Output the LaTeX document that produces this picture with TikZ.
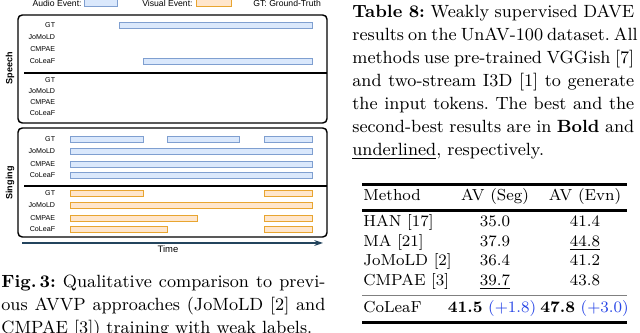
\documentclass[tikz,border=0pt]{standalone}
\usepackage{fontspec}
\newfontfamily\dsans{Liberation Sans}
\usetikzlibrary{arrows.meta}
\definecolor{abfill}{HTML}{DAE8FC}
\definecolor{abdraw}{HTML}{7F9FD0}
\definecolor{vbfill}{HTML}{FFE6CC}
\definecolor{vbdraw}{HTML}{E8A530}
\definecolor{deltablue}{RGB}{40,70,230}
\definecolor{timecol}{HTML}{23445D}
\frenchspacing
\begin{document}
\begin{tikzpicture}[x=0.52pt,y=-0.52pt,
  abar/.style={fill=abfill,draw=abdraw,line width=0.5pt},
  vbar/.style={fill=vbfill,draw=vbdraw,line width=0.5pt},
  rowlab/.style={font=\dsans\fontsize{3.7}{4}\selectfont,anchor=east,inner sep=0pt},
  panel/.style={draw=black,line width=0.75pt,rounded corners=2.2pt},
  sepline/.style={draw=black,line width=0.75pt},
  legtext/.style={font=\dsans\fontsize{4.5}{5}\selectfont,inner sep=0pt},
  sidelab/.style={font=\dsans\bfseries\fontsize{4.7}{5}\selectfont,inner sep=0pt,rotate=90},
  captxt/.style={font=\fontsize{9.2}{11}\selectfont,anchor=base west,inner sep=0pt},
  tabtxt/.style={font=\fontsize{8.3}{10}\selectfont,anchor=base,inner sep=0pt},
  heavyrule/.style={line width=1.3pt},
  thinrule/.style={line width=0.45pt,draw=gray}]
\useasboundingbox (0,0) rectangle (640,333);
\clip (0,0) rectangle (640,333);

% ---------- legend ----------
\node[legtext,anchor=east] (legA) at (82,3.5) {Audio Event:};
\path[abar] (84,-2) rectangle (117,6.5);
\node[legtext,anchor=east] (legV) at (193,3.5) {Visual Event:};
\path[vbar] (196,-2) rectangle (231,6.5);
\node[legtext,anchor=west] (legG) at (253,3.5) {GT: Ground-Truth};

% ---------- speech panel ----------
\draw[panel] (18,15) rectangle (327,123);
\draw[sepline] (24,73) -- (327,73);
\node[sidelab] (speech) at (10,68) {Speech};
\node[rowlab] (s1) at (55.5,25) {GT};
\node[rowlab] (s2) at (55.5,37) {JoMoLD};
\node[rowlab] (s3) at (55.5,49) {CMPAE};
\node[rowlab] (s4) at (55.5,61) {CoLeaF};
\node[rowlab] (s5) at (55.5,80) {GT};
\node[rowlab] (s6) at (55.5,91) {JoMoLD};
\node[rowlab] (s7) at (55.5,102) {CMPAE};
\node[rowlab] (s8) at (55.5,113) {CoLeaF};
\path[abar] (119,22) rectangle (312,28);
\path[abar] (143,58) rectangle (312,64);

% ---------- singing panel ----------
\draw[panel] (18,128) rectangle (327,237);
\draw[sepline] (24,186) -- (327,186);
\node[sidelab] (singing) at (10,183) {Singing};
\node[rowlab] (g1) at (55.5,139) {GT};
\node[rowlab] (g2) at (55.5,151) {JoMoLD};
\node[rowlab] (g3) at (55.5,164) {CMPAE};
\node[rowlab] (g4) at (55.5,175) {CoLeaF};
\node[rowlab] (g5) at (55.5,193) {GT};
\node[rowlab] (g6) at (55.5,205) {JoMoLD};
\node[rowlab] (g7) at (55.5,218) {CMPAE};
\node[rowlab] (g8) at (55.5,229) {CoLeaF};
% audio bars
\path[abar] (70,136) rectangle (143,142);
\path[abar] (167,136) rectangle (239,142);
\path[abar] (264,136) rectangle (312,142);
\path[abar] (70,148) rectangle (312,154);
\path[abar] (70,161) rectangle (312,167);
\path[abar] (70,172) rectangle (312,178);
% visual bars
\path[vbar] (70,190) rectangle (143,196);
\path[vbar] (264,190) rectangle (312,196);
\path[vbar] (70,202) rectangle (312,208);
\path[vbar] (70,215) rectangle (197,221);
\path[vbar] (264,215) rectangle (312,221);
\path[vbar] (70,226) rectangle (167,232);
\path[vbar] (264,226) rectangle (312,232);

% ---------- time axis ----------
\coordinate (t0) at (22,243);
\coordinate (t1) at (323,243);
\draw[timecol,line width=0.6pt,-{Stealth[length=4.5pt,width=3pt]}] (t0) -- (t1);
\node[legtext,font=\dsans\fontsize{4.9}{5}\selectfont] (time) at (168,249) {Time};

% ---------- left caption ----------
\node[captxt] (cap1) at (1,288) {\hbox to 168.5pt{\textbf{Fig.\,3:} Qualitative comparison to previ-}};
\node[captxt] (cap2) at (1,311) {\hbox to 168.5pt{ous AVVP approaches (JoMoLD [2] and}};
\node[captxt] (cap3) at (1,334) {CMPAE [3]) training with weak labels.};

% ---------- right caption ----------
\node[captxt] (r1) at (352,18) {\hbox to 146.6pt{\textbf{Table 8:} Weakly supervised DAVE}};
\node[captxt] (r2) at (352,41) {\hbox to 146.6pt{results on the UnAV-100 dataset. All}};
\node[captxt] (r3) at (352,64) {\hbox to 146.6pt{methods use pre-trained VGGish [7]}};
\node[captxt] (r4) at (352,87) {\hbox to 146.6pt{and two-stream I3D [1] to generate}};
\node[captxt] (r5) at (352,110) {\hbox to 146.6pt{the input tokens. The best and the}};
\node[captxt] (r6) at (352,133) {\hbox to 146.6pt{second-best results are in \textbf{Bold} and}};
\node[captxt] (r7) at (352,156) {\underline{underlined}, respectively.};

% ---------- table ----------
\draw[heavyrule] (362,184.5) -- (627,184.5);
\node[tabtxt,anchor=base west] (hm) at (363,201) {Method};
\node[tabtxt] (hs) at (495,201) {AV (Seg)};
\node[tabtxt] (he) at (585,201) {AV (Evn)};
\draw[heavyrule] (362,210.5) -- (627,210.5);

\node[tabtxt,anchor=base west] (m1) at (363,227) {HAN [17]};
\node[tabtxt] (a1) at (495,227) {35.0};
\node[tabtxt] (b1) at (585,227) {41.4};

\node[tabtxt,anchor=base west] (m2) at (363,246.5) {MA [21]};
\node[tabtxt] (a2) at (495,246.5) {37.9};
\node[tabtxt] (b2) at (585,246.5) {\underline{44.8}};

\node[tabtxt,anchor=base west] (m3) at (363,266) {JoMoLD [2]};
\node[tabtxt] (a3) at (495,266) {36.4};
\node[tabtxt] (b3) at (585,266) {41.2};

\node[tabtxt,anchor=base west] (m4) at (363,285.5) {CMPAE [3]};
\node[tabtxt] (a4) at (495,285.5) {\underline{39.7}};
\node[tabtxt] (b4) at (585,285.5) {43.8};

\draw[thinrule] (362,295) -- (627,295);

\node[tabtxt,anchor=base west] (m5) at (363,313) {CoLeaF};
\node[tabtxt] (a5) at (492,313) {\textbf{41.5} \textcolor{deltablue}{(+1.8)}};
\node[tabtxt] (b5) at (584.5,313) {\textbf{47.8} \textcolor{deltablue}{(+3.0)}};

\draw[heavyrule] (362,322.7) -- (627,322.7);
\end{tikzpicture}
\end{document}
